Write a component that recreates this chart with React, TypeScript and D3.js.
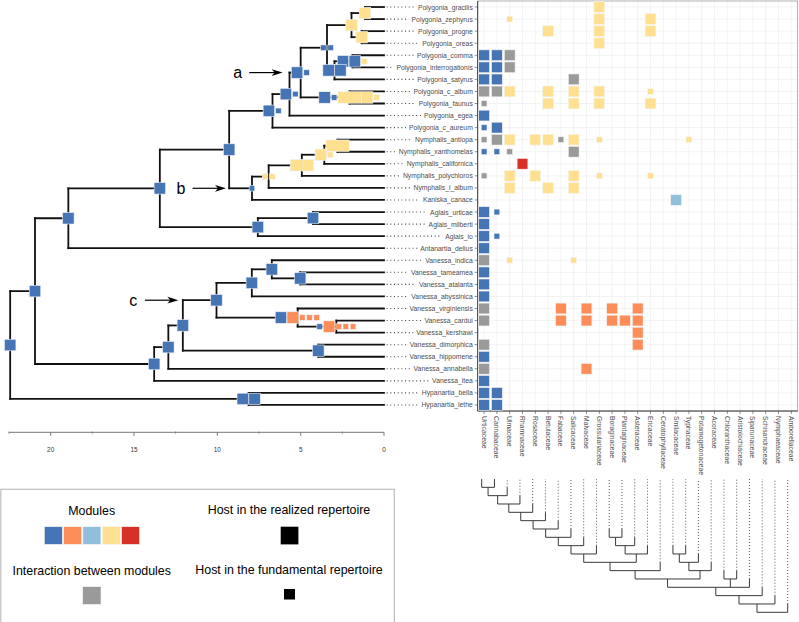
import React from "react";
import * as d3 from "d3";

// ---------- data ----------
const tips = [
  "Polygonia_gracilis", "Polygonia_zephyrus", "Polygonia_progne", "Polygonia_oreas",
  "Polygonia_comma", "Polygonia_interrogationis", "Polygonia_satyrus", "Polygonia_c_album",
  "Polygonia_faunus", "Polygonia_egea", "Polygonia_c_aureum", "Nymphalis_antiopa",
  "Nymphalis_xanthomelas", "Nymphalis_californica", "Nymphalis_polychloros", "Nymphalis_l_album",
  "Kaniska_canace", "Aglais_urticae", "Aglais_milberti", "Aglais_io", "Antanartia_delius",
  "Vanessa_indica", "Vanessa_tameamea", "Vanessa_atalanta", "Vanessa_abyssinica",
  "Vanessa_virginiensis", "Vanessa_cardui", "Vanessa_kershawi", "Vanessa_dimorphica",
  "Vanessa_hippomene", "Vanessa_annabella", "Vanessa_itea", "Hypanartia_bella", "Hypanartia_lethe",
];

const hosts = [
  "Urticaceae", "Cannabaceae", "Ulmaceae", "Rhamnaceae", "Rosaceae", "Betulaceae", "Fabaceae",
  "Salicaceae", "Malvaceae", "Grossulariaceae", "Boraginaceae", "Plantaginaceae", "Asteraceae",
  "Ericaceae", "Ceratophyllaceae", "Smilacaceae", "Typhaceae", "Potamogetonaceae", "Acoraceae",
  "Chloranthaceae", "Aristolochiaceae", "Siparunaceae", "Schisandraceae", "Nymphaeaceae", "Amborellaceae",
];

// per species (same order as tips): host:moduleCode+size  (B blue, O orange, C light blue, Y yellow, R red, G between modules; L realized, S fundamental)
const cellCodes = [
  "Grossulariaceae:YL",
  "Ulmaceae:YS Grossulariaceae:YL Ericaceae:YL",
  "Betulaceae:YL Grossulariaceae:YL Ericaceae:YL",
  "Grossulariaceae:YL",
  "Urticaceae:BL Cannabaceae:BL Ulmaceae:GL",
  "Urticaceae:BL Cannabaceae:BL Ulmaceae:GL",
  "Urticaceae:BL Cannabaceae:BL Salicaceae:GL",
  "Urticaceae:GL Cannabaceae:GL Ulmaceae:YL Betulaceae:YL Salicaceae:YL Grossulariaceae:YL Ericaceae:YS",
  "Urticaceae:GS Betulaceae:YL Salicaceae:YL Grossulariaceae:YL Ericaceae:YL",
  "Urticaceae:BL",
  "Urticaceae:BS Cannabaceae:BL",
  "Urticaceae:GS Cannabaceae:GL Ulmaceae:YL Rosaceae:YL Betulaceae:YL Fabaceae:GS Salicaceae:YL Grossulariaceae:YS Typhaceae:YS",
  "Urticaceae:BS Cannabaceae:BS Ulmaceae:GS Salicaceae:GL",
  "Rhamnaceae:RL",
  "Urticaceae:GS Ulmaceae:YL Rosaceae:YL Salicaceae:YL Grossulariaceae:YS Ericaceae:YS",
  "Ulmaceae:YL Betulaceae:YL Salicaceae:YL",
  "Smilacaceae:CL",
  "Urticaceae:BL Cannabaceae:BS",
  "Urticaceae:BL",
  "Urticaceae:BL Cannabaceae:BS",
  "Urticaceae:BL",
  "Urticaceae:GL Ulmaceae:YS Salicaceae:YS",
  "Urticaceae:BL",
  "Urticaceae:BL",
  "Urticaceae:BL",
  "Urticaceae:GL Fabaceae:OL Malvaceae:OL Boraginaceae:OL Asteraceae:OL",
  "Urticaceae:GL Fabaceae:OL Malvaceae:OL Boraginaceae:OL Plantaginaceae:OL Asteraceae:OL",
  "Asteraceae:OL",
  "Urticaceae:GL Asteraceae:OL",
  "Urticaceae:BL",
  "Urticaceae:GL Malvaceae:OL",
  "Urticaceae:BL",
  "Urticaceae:BL Cannabaceae:BL",
  "Urticaceae:BL Cannabaceae:BL",
];

// butterfly tree: [node, child, child, age (Myr), ancestral host states]
const treeNodes: [string, string, string, number, string][] = [
  ["gz", "Polygonia_gracilis", "Polygonia_zephyrus", 1.14, "YL"],
  ["po", "Polygonia_progne", "Polygonia_oreas", 1.34, "YL"],
  ["p1", "gz", "po", 1.95, "YL"],
  ["ci", "Polygonia_comma", "Polygonia_interrogationis", 1.89, "BL BL YS"],
  ["cis", "ci", "Polygonia_satyrus", 2.97, "BL BL"],
  ["p2", "p1", "cis", 3.42, "BS BS"],
  ["cf", "Polygonia_c_album", "Polygonia_faunus", 2.07, "BL BS YL YL YL YS"],
  ["na", "p2", "cf", 5.0, "BL BS"],
  ["ae", "na", "Polygonia_egea", 5.67, "BL BS"],
  ["aea", "ae", "Polygonia_c_aureum", 6.69, "BL BS"],
  ["ax", "Nymphalis_antiopa", "Nymphalis_xanthomelas", 2.79, "YL YL"],
  ["axc", "ax", "Nymphalis_californica", 3.58, "YL YS"],
  ["axcp", "axc", "Nymphalis_polychloros", 4.93, "YL YL"],
  ["nym", "axcp", "Nymphalis_l_album", 6.92, "YS YS"],
  ["nk", "nym", "Kaniska_canace", 7.92, "BS"],
  ["n4", "aea", "nk", 9.29, "BL"],
  ["um", "Aglais_urticae", "Aglais_milberti", 4.26, "BL"],
  ["agl", "um", "Aglais_io", 7.57, "BL"],
  ["n3", "n4", "agl", 13.45, "BL"],
  ["n2", "n3", "Antanartia_delius", 18.94, "BL"],
  ["ta", "Vanessa_tameamea", "Vanessa_atalanta", 5.03, "BL"],
  ["ita", "Vanessa_indica", "ta", 6.73, "BL"],
  ["itaa", "ita", "Vanessa_abyssinica", 7.93, "BL"],
  ["ck", "Vanessa_cardui", "Vanessa_kershawi", 2.86, "BS OL OS OS OS"],
  ["vck", "Vanessa_virginiensis", "ck", 5.18, "BL OL OS OS OS"],
  ["v1", "itaa", "vck", 10.05, "BL"],
  ["dh", "Vanessa_dimorphica", "Vanessa_hippomene", 3.94, "BL"],
  ["v2", "v1", "dh", 12.07, "BL"],
  ["v3", "v2", "Vanessa_annabella", 12.94, "BL"],
  ["v4", "v3", "Vanessa_itea", 13.79, "BL"],
  ["n1", "n2", "v4", 20.94, "BL"],
  ["hyp", "Hypanartia_bella", "Hypanartia_lethe", 8.12, "BL BL"],
  ["root", "n1", "hyp", 22.43, "BL"],
];

// host plant cladogram
const hostNodes: [string, string[]][] = [
  ["h1", ["Urticaceae", "Cannabaceae"]],
  ["h2", ["h1", "Ulmaceae"]],
  ["h3", ["h2", "Rhamnaceae"]],
  ["h4", ["h3", "Rosaceae"]],
  ["h5", ["h4", "Betulaceae"]],
  ["h6", ["h5", "Fabaceae"]],
  ["h7", ["h6", "Salicaceae"]],
  ["h8", ["h7", "Malvaceae"]],
  ["h9", ["h8", "Grossulariaceae"]],
  ["a1", ["Boraginaceae", "Plantaginaceae"]],
  ["a2", ["a1", "Asteraceae"]],
  ["a3", ["a2", "Ericaceae"]],
  ["e1", ["h9", "a3"]],
  ["e2", ["e1", "Ceratophyllaceae"]],
  ["m1", ["Smilacaceae", "Typhaceae"]],
  ["m2", ["m1", "Potamogetonaceae"]],
  ["m3", ["m2", "Acoraceae"]],
  ["em", ["e2", "m3"]],
  ["ca", ["Chloranthaceae", "Aristolochiaceae"]],
  ["p1", ["em", "ca", "Siparunaceae"]],
  ["p2", ["p1", "Schisandraceae"]],
  ["p3", ["p2", "Nymphaeaceae"]],
  ["root", ["p3", "Amborellaceae"]],
];

const annotations: [string, string, number][] = [
  ["a", "na", 6.08],
  ["b", "nk", 9.48],
  ["c", "v1", 12.34],
];

const majorTicks = [0, 5, 10, 15, 20];
const minorTicks = [2.5, 7.5, 12.5, 17.5, 22.5];
const legendModules = ["B", "O", "C", "Y", "R"];

const colorOf: Record<string, string> = {
  B: "#4575b4", O: "#fc8d59", C: "#91bfdb", Y: "#fee090", R: "#d73027", G: "#9a9a9a",
};

const FONT = "'Liberation Sans', Arial, Helvetica, sans-serif";

let ctx: CanvasRenderingContext2D | null = null;
function textWidth(s: string, size: number) {
  if (!ctx) ctx = document.createElement("canvas").getContext("2d");
  if (!ctx) return s.length * size * 0.45;
  ctx.font = `${size}px 'Liberation Sans', Arial, sans-serif`;
  return ctx.measureText(s).width;
}

export default function App() {
  const W = 799, H = 622;
  const xT = d3.scaleLinear().domain([0, 22.5]).range([384, 9]);
  const yRow = d3.scaleBand<string>().domain(tips).range([1, 411]);
  const rowY = (n: string) => (yRow(n) as number) + yRow.bandwidth() / 2;
  const xCol = d3.scaleBand<string>().domain(hosts).range([477.7, 797.7]);
  const colX = (h: string) => (xCol(h) as number) + xCol.bandwidth() / 2;
  const xHost = d3.scalePoint<string>().domain(hosts).range([481.7, 787.7]);
  const yHost = d3.scaleLinear().domain([0, 16]).range([612.3, 479]);

  // ---- butterfly tree layout ----
  type N = { id: string; t: number; kids: string[]; boxes: string[]; y: number };
  const nodes = new Map<string, N>();
  tips.forEach((n) => nodes.set(n, { id: n, t: 0, kids: [], boxes: [], y: rowY(n) }));
  treeNodes.forEach(([id, a, b, t, bx]) =>
    nodes.set(id, { id, t, kids: [a, b], boxes: bx.split(" "), y: NaN })
  );
  const getY = (id: string): number => {
    const n = nodes.get(id)!;
    if (isNaN(n.y)) n.y = d3.mean(n.kids.map(getY)) as number;
    return n.y;
  };
  treeNodes.forEach(([id]) => getY(id));

  const treeLines: JSX.Element[] = [];
  const treeBoxes: JSX.Element[] = [];
  treeNodes.forEach(([id]) => {
    const n = nodes.get(id)!;
    const x = xT(n.t);
    const ys = n.kids.map((k) => nodes.get(k)!.y);
    treeLines.push(
      <line key={id + "v"} x1={x} x2={x} y1={Math.min(...ys)} y2={Math.max(...ys)} />
    );
    n.kids.forEach((k) => {
      const c = nodes.get(k)!;
      treeLines.push(<line key={id + k} x1={x} x2={xT(c.t)} y1={c.y} y2={c.y} />);
    });
  });
  const slotW = (s: string) => (s[1] === "L" ? 11.8 : 7.2);
  const boxS = (s: string) => (s[1] === "L" ? 11.5 : 5.6);
  treeNodes.forEach(([id]) => {
    const n = nodes.get(id)!;
    const total = d3.sum(n.boxes, slotW);
    let cur = xT(n.t) - total / 2;
    n.boxes.forEach((b, i) => {
      const sw = slotW(b), s = boxS(b);
      treeBoxes.push(
        <rect key={id + "b" + i} x={cur + sw / 2 - s / 2} y={n.y - s / 2} width={s} height={s}
          fill={colorOf[b[0]]} stroke="#eef2f8" strokeWidth={0.6} />
      );
      cur += sw;
    });
  });

  // ---- host tree ----
  type HN = { kids: string[]; depth: number; x: number };
  const hn = new Map<string, HN>();
  hosts.forEach((h) => hn.set(h, { kids: [], depth: 0, x: xHost(h) as number }));
  hostNodes.forEach(([id, kids]) => hn.set(id, { kids, depth: 0, x: NaN }));
  const setDepth = (id: string, d: number) => {
    const n = hn.get(id)!;
    n.depth = d;
    n.kids.forEach((k) => setDepth(k, d + 1));
  };
  setDepth("root", 0);
  const getX = (id: string): number => {
    const n = hn.get(id)!;
    if (isNaN(n.x)) n.x = d3.mean(n.kids.map(getX)) as number;
    return n.x;
  };
  getX("root");
  const hostLines: JSX.Element[] = [];
  const hostDots: JSX.Element[] = [];
  hostNodes.forEach(([id, kids]) => {
    const n = hn.get(id)!;
    const y = yHost(n.depth);
    const xs = kids.map((k) => hn.get(k)!.x);
    hostLines.push(<line key={id + "h"} x1={Math.min(...xs)} x2={Math.max(...xs)} y1={y} y2={y} />);
    kids.forEach((k) => {
      const c = hn.get(k)!;
      const yc = yHost(c.depth);
      hostLines.push(<line key={id + k} x1={c.x} x2={c.x} y1={y} y2={yc} />);
      if (c.kids.length === 0 && yc - yHost(16) > 0.5) {
        hostDots.push(<line key={k + "d"} x1={c.x} x2={c.x} y1={yc} y2={yHost(16)} />);
      }
    });
  });

  const tickLen = 3;

  return (
    <svg width={W} height={H} style={{ position: "absolute", left: 0, top: 0, background: "#fff" }}
      fontFamily={FONT}>
      {/* matrix grid */}
      <g stroke="#ebebeb" strokeWidth={0.6}>
        {hosts.map((h) => <line key={h} x1={colX(h)} x2={colX(h)} y1={1} y2={411} />)}
        {tips.map((t) => <line key={t} x1={477.7} x2={797.7} y1={rowY(t)} y2={rowY(t)} />)}
      </g>
      <rect x={477.7} y={1} width={320} height={410} fill="none" stroke="#8c8c8c" strokeWidth={0.7} />
      <g stroke="#333" strokeWidth={0.9}>
        <line x1={477.7} x2={477.7} y1={1} y2={411} />
        <line x1={477.7} x2={797.7} y1={411} y2={411} />
      </g>
      <g stroke="#444" strokeWidth={0.6}>
        {tips.map((t) => <line key={t} x1={477.7 - tickLen} x2={477.7} y1={rowY(t)} y2={rowY(t)} />)}
        {hosts.map((h) => <line key={h} x1={colX(h)} x2={colX(h)} y1={411} y2={411 + tickLen} />)}
      </g>
      {/* matrix cells */}
      <g>
        {tips.map((sp, i) =>
          cellCodes[i].split(" ").map((c) => {
            const [h, code] = c.split(":");
            const s = code[1] === "L" ? 10.8 : 5.8;
            return (
              <rect key={sp + h} x={colX(h) - s / 2} y={rowY(sp) - s / 2} width={s} height={s}
                fill={colorOf[code[0]]} stroke="#f4f4f4" strokeWidth={0.6} />
            );
          })
        )}
      </g>
      {/* host labels */}
      <g fontSize={6.8} fill="#4d4d4d">
        {hosts.map((h) => (
          <text key={h} transform={`translate(${colX(h)},416) rotate(90)`} dominantBaseline="central">
            {h}
          </text>
        ))}
      </g>
      {/* species labels + dotted leaders */}
      <g>
        {tips.map((t) => {
          const w = textWidth(t, 6.8);
          const end = 472.8 - w - 3;
          return (
            <g key={t}>
              {end > 387 && (
                <line x1={386.6} x2={end} y1={rowY(t)} y2={rowY(t)} stroke="#444"
                  strokeWidth={1.1} strokeDasharray="1 2.7" />
              )}
              <text x={472.8} y={rowY(t)} fontSize={6.8} fill="#4d4d4d" textAnchor="end"
                dominantBaseline="central">{t}</text>
            </g>
          );
        })}
      </g>
      {/* butterfly tree */}
      <g stroke="#111" strokeWidth={1.8} strokeLinecap="square">{treeLines}</g>
      <g>{treeBoxes}</g>
      {/* annotations */}
      {annotations.map(([lab, id, tEnd]) => {
        const n = nodes.get(id)!;
        const x2 = xT(tEnd), x1 = x2 - 33.4, y = n.y;
        return (
          <g key={lab}>
            <line x1={x1} x2={x2 - 6} y1={y} y2={y} stroke="#000" strokeWidth={1.2} />
            <path d={`M${x2},${y} L${x2 - 11},${y - 3.4} L${x2 - 8},${y} L${x2 - 11},${y + 3.4} Z`} fill="#000" />
            <text x={x1 - 11.6} y={y + 5.3} fontSize={16} textAnchor="middle" fill="#000">{lab}</text>
          </g>
        );
      })}
      {/* time axis */}
      <g stroke="#777" strokeWidth={1}>
        <line x1={xT(22.5)} x2={xT(0)} y1={432.3} y2={432.3} />
        {majorTicks.map((t) => <line key={t} x1={xT(t)} x2={xT(t)} y1={432.3} y2={435.8} />)}
        {minorTicks.map((t) => <line key={t} x1={xT(t)} x2={xT(t)} y1={431.6} y2={433.6} />)}
      </g>
      <g fontSize={6.4} fill="#333" textAnchor="middle">
        {majorTicks.map((t) => (
          <text key={t} x={xT(t)} y={452.3}>{t}</text>
        ))}
      </g>
      {/* host tree */}
      <g stroke="#3a3a3a" strokeWidth={1}>{hostLines}</g>
      <g stroke="#333" strokeWidth={0.9} strokeDasharray="0.9 2.1">{hostDots}</g>
      {/* legend */}
      <rect x={0.8} y={489.3} width={393.5} height={200} fill="none" stroke="#bdbdbd" strokeWidth={1.2} />
      <g fontSize={12.4} fill="#000" textAnchor="middle">
        <text x={91.7} y={515}>Modules</text>
        <text x={91.7} y={575}>Interaction between modules</text>
        <text x={289} y={513.6}>Host in the realized repertoire</text>
        <text x={289} y={573.6}>Host in the fundamental repertoire</text>
      </g>
      {legendModules.map((m, i) => (
        <rect key={m} x={44.3 + i * 19.3} y={526.7} width={18} height={17.7} fill={colorOf[m]}
          stroke="#f4f4f4" strokeWidth={0.6} />
      ))}
      <rect x={82.7} y={586.7} width={18.3} height={17.7} fill={colorOf.G} stroke="#f4f4f4" strokeWidth={0.6} />
      <rect x={280.7} y={526.7} width={17.7} height={17.7} fill="#000" />
      <rect x={284} y={589} width={11} height={10.5} fill="#000" />
    </svg>
  );
}
